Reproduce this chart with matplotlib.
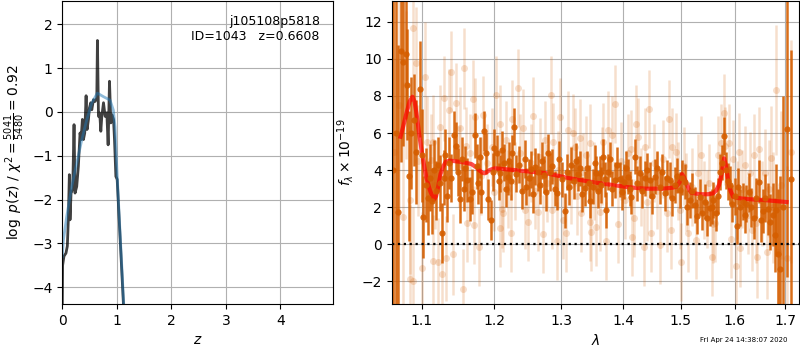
import matplotlib
matplotlib.use("Agg")
import matplotlib.pyplot as plt
from matplotlib.ticker import FixedLocator, FixedFormatter, NullLocator

# ---------------- p(z) panel ----------------
z_pz = [0.0, 0.005, 0.03, 0.067, 0.092, 0.11, 0.129, 0.141, 0.16, 0.19, 0.215, 0.233,
        0.264, 0.294, 0.325, 0.344, 0.368, 0.387, 0.411, 0.436, 0.454, 0.479, 0.497,
        0.521, 0.540, 0.571, 0.601, 0.632, 0.644, 0.663, 0.681, 0.693, 0.706, 0.724,
        0.755, 0.785, 0.816, 0.840, 0.865, 0.890, 0.908, 0.939, 0.957, 0.982, 1.006,
        1.049, 1.092, 1.135, 1.2]
logp = [-4.4, -3.5, -3.29, -3.22, -3.06, -2.46, -1.43, -2.46, -1.85, -1.77, -0.29, -1.85,
        -1.70, -1.24, -0.48, -0.63, -0.17, -0.63, -0.48, 0.37, -0.40, -0.17, 0.09,
        0.21, 0.05, 0.28, 0.24, 0.32, 1.63, -0.10, -0.02, -0.17, -0.44, -0.10,
        0.21, -0.10, -0.02, -0.75, 0.70, -0.25, -0.06, -0.17, -0.63, -1.47, -1.54,
        -2.61, -3.67, -4.74, -6.0]
z_smooth = [0.0, 0.02, 0.08, 0.172, 0.264, 0.356, 0.448, 0.539, 0.642, 0.752, 0.875,
            0.936, 0.967, 0.998, 1.05, 1.10, 1.15]
logp_smooth = [-3.3, -2.92, -2.39, -1.70, -1.17, -0.64, -0.18, 0.20, 0.43, 0.35, 0.27,
               0.04, -0.34, -1.25, -2.55, -3.75, -5.0]

# ---------------- spectrum panel ----------------
lam_dark = [1.0625, 1.0660, 1.0692, 1.0727, 1.0756, 1.0791, 1.0810, 1.0830, 1.0862, 1.0895,
            1.0930, 1.0974, 1.1000, 1.1017, 1.1050, 1.1080, 1.1105, 1.1129, 1.1160, 1.1190,
            1.1215, 1.1240, 1.1263, 1.1290, 1.1315, 1.1340, 1.1365, 1.1389, 1.1429, 1.1466,
            1.1490, 1.1521, 1.1545, 1.1570, 1.1590, 1.1613, 1.1651, 1.1683, 1.1717, 1.1745,
            1.1770, 1.1790, 1.1815, 1.1848, 1.1876, 1.1909, 1.1947, 1.1975, 1.2000, 1.2038,
            1.2060, 1.2087, 1.2115, 1.2140, 1.2164, 1.2190, 1.2213, 1.2240, 1.2262, 1.2290,
            1.2320, 1.2365, 1.2400, 1.2440, 1.2469, 1.2500, 1.2534, 1.2570, 1.2600, 1.2640,
            1.2670, 1.2700, 1.2730, 1.2761, 1.2795, 1.2823, 1.2860, 1.2895, 1.2935, 1.2970,
            1.3010, 1.3055, 1.3090, 1.3122, 1.3160, 1.3195, 1.3228, 1.3260, 1.3291, 1.3330,
            1.3371, 1.3408, 1.3440, 1.3463, 1.3505, 1.3535, 1.3560, 1.3590, 1.3614, 1.3640,
            1.3668, 1.3700, 1.3723, 1.3750, 1.3778, 1.3820, 1.3860, 1.3900, 1.3944, 1.3975,
            1.4010, 1.4045, 1.4083, 1.4110, 1.4140, 1.4196, 1.4230, 1.4282, 1.4320, 1.4367,
            1.4410, 1.4454, 1.4500, 1.4540, 1.4585, 1.4628, 1.4670, 1.4716, 1.4760, 1.4804,
            1.4850, 1.4893, 1.4940, 1.4982, 1.5030, 1.5072, 1.5120, 1.5163, 1.5210, 1.5254,
            1.5300, 1.5346, 1.5390, 1.5438, 1.5485, 1.5530, 1.5564, 1.5592, 1.5656, 1.5690,
            1.5718, 1.5760, 1.5793, 1.5831, 1.5870, 1.5907, 1.5950, 1.6002, 1.6040, 1.6066,
            1.6110, 1.6162, 1.6195, 1.6229, 1.6275, 1.6325, 1.6370, 1.6420, 1.6475, 1.6515,
            1.6556, 1.6600, 1.6655, 1.6700, 1.6754, 1.6790, 1.6822, 1.6855, 1.6889, 1.6950,
            1.7027, 1.7125]
flux_dark = [4.0, 6.0, 1.74, 10.44, 9.81, 10.25, 8.6, 3.68, 6.0, 6.70,
             5.0, 8.38, 4.8, 1.47, 3.2, 2.5, 3.6, 2.34, 4.0, 2.9,
             4.3, 3.3, 0.61, 3.6, 4.8, 2.6, 4.4, 3.56, 5.88, 5.30,
             3.9, 2.46, 4.6, 3.0, 4.1, 3.47, 2.43, 2.84, 5.88, 4.2,
             3.3, 4.7, 2.80, 6.11, 4.91, 2.43, 1.31, 3.9, 5.2, 4.91,
             3.4, 3.83, 5.1, 4.40, 3.0, 3.65, 4.5, 3.4, 4.91, 6.34,
             3.8, 4.28, 2.9, 4.6, 3.11, 3.6, 4.05, 2.7, 4.19, 3.9,
             3.20, 4.5, 3.74, 2.8, 4.94, 3.9, 4.2, 3.0, 2.78, 4.6,
             3.5, 1.81, 3.9, 3.07, 4.28, 3.4, 4.51, 3.8, 4.10, 2.7,
             3.02, 4.10, 3.3, 2.35, 3.11, 4.4, 3.83, 2.9, 3.83, 3.2,
             4.72, 3.5, 1.85, 3.9, 4.58, 3.0, 3.47, 4.3, 3.51, 2.8,
             3.38, 4.1, 3.65, 3.0, 2.57, 4.72, 3.29, 3.83, 2.9, 3.56,
             4.0, 3.47, 2.6, 3.65, 4.1, 3.11, 3.9, 2.75, 3.6, 3.47,
             2.5, 3.20, 3.7, 2.93, 3.6, 3.38, 2.0, 2.39, 2.9, 2.12,
             1.5, 2.57, 1.7, 2.30, 1.4, 1.94, 2.03, 2.39, 1.67, 2.6,
             3.9, 4.4, 5.84, 4.0, 3.4, 3.2, 2.2, 2.6, 1.0, 3.11,
             2.0, 2.3, 1.6, 2.2, 2.8, 2.0, 1.4, 2.5, 3.38, 1.3,
             1.8, 2.5, 1.9, 1.2, 1.6, 0.5, 1.85, -0.5, -1.33, 2.0,
             6.24, 3.5]
err_dark = [12.0, 11.0, 9.0, 6.0, 4.5, 3.5, 3.0, 3.5, 3.0, 2.5,
            2.8, 2.6, 2.5, 2.2, 2.0, 2.0, 1.8, 1.8, 1.6, 1.6,
            1.5, 1.5, 1.6, 1.5, 1.4, 1.4, 1.4, 1.3, 1.3, 1.3,
            1.3, 1.3, 1.2, 1.2, 1.2, 1.2, 1.2, 1.2, 1.2, 1.2,
            1.1, 1.1, 1.1, 1.1, 1.1, 1.1, 1.1, 1.0, 1.0, 1.0,
            1.0, 1.0, 1.0, 1.0, 1.0, 1.0, 1.0, 1.0, 1.0, 1.0,
            1.0, 1.0, 1.0, 1.0, 1.0, 1.0, 1.0, 1.0, 1.0, 1.0,
            1.0, 1.0, 1.0, 1.0, 1.0, 1.0, 0.95, 0.95, 0.95, 0.95,
            0.95, 0.95, 0.95, 0.95, 0.95, 0.95, 0.95, 0.95, 0.95, 0.95,
            0.95, 0.95, 0.95, 0.95, 0.95, 0.95, 0.95, 0.95, 0.95, 0.95,
            0.95, 0.95, 0.95, 0.95, 0.95, 0.95, 0.95, 0.95, 0.95, 0.95,
            0.95, 0.95, 0.95, 0.95, 0.95, 0.95, 0.95, 0.95, 0.95, 0.95,
            0.95, 0.95, 0.95, 0.95, 0.95, 0.95, 0.95, 0.95, 0.95, 0.95,
            0.95, 0.95, 0.95, 0.95, 0.95, 0.95, 0.95, 0.95, 0.95, 0.95,
            0.95, 0.95, 0.95, 0.95, 0.95, 0.95, 0.95, 0.95, 0.95, 0.95,
            0.95, 0.95, 1.0, 1.0, 1.0, 1.0, 1.0, 1.0, 1.0, 1.0,
            1.0, 1.0, 1.0, 1.0, 1.05, 1.05, 1.1, 1.1, 1.15, 1.2,
            1.2, 1.3, 1.4, 1.5, 1.7, 2.0, 2.5, 3.5, 5.0, 6.0,
            8.0, 7.0]

lam_light = [1.0640, 1.0700, 1.0756, 1.0790, 1.0843, 1.0851, 1.0878, 1.0886, 1.0920, 1.0950,
             1.1004, 1.1040, 1.1070, 1.1118, 1.1142, 1.1150, 1.1180, 1.1209, 1.1240, 1.1271,
             1.1298, 1.1320, 1.1366, 1.1398, 1.1420, 1.1466, 1.1500, 1.1521, 1.1557, 1.1567,
             1.1604, 1.1613, 1.1651, 1.1693, 1.1703, 1.1727, 1.1781, 1.1810, 1.1838, 1.1900,
             1.1971, 1.2000, 1.2029, 1.2077, 1.2087, 1.2116, 1.2125, 1.2174, 1.2200, 1.2247,
             1.2262, 1.2300, 1.2336, 1.2380, 1.2418, 1.2444, 1.2493, 1.2530, 1.2569, 1.2600,
             1.2644, 1.2680, 1.2711, 1.2746, 1.2780, 1.2838, 1.2849, 1.2874, 1.2926, 1.2950,
             1.2977, 1.3029, 1.3071, 1.3107, 1.3150, 1.3185, 1.3212, 1.3250, 1.3291, 1.3317,
             1.3350, 1.3398, 1.3452, 1.3463, 1.3479, 1.3520, 1.3560, 1.3614, 1.3650, 1.3668,
             1.3723, 1.3750, 1.3822, 1.3860, 1.3916, 1.3960, 1.4027, 1.4080, 1.4140, 1.4157,
             1.4180, 1.4212, 1.4250, 1.4300, 1.4350, 1.4367, 1.4410, 1.4444, 1.4477, 1.4520,
             1.4580, 1.4628, 1.4680, 1.4756, 1.4790, 1.4831, 1.4848, 1.4915, 1.4950, 1.4982,
             1.5000, 1.5060, 1.5100, 1.5132, 1.5200, 1.5285, 1.5316, 1.5361, 1.5420, 1.5480,
             1.5520, 1.5565, 1.5592, 1.5624, 1.5686, 1.5749, 1.5793, 1.5810, 1.5893, 1.5938,
             1.5970, 1.6021, 1.6050, 1.6084, 1.6112, 1.6150, 1.6195, 1.6250, 1.6292, 1.6344,
             1.6380, 1.6423, 1.6435, 1.6475, 1.6530, 1.6588, 1.6634, 1.6680, 1.6722, 1.6760,
             1.6808, 1.6855, 1.6920, 1.7040, 1.7120]
flux_light = [5.0, 7.5, 1.49, 8.6, 2.39, -1.89, 11.65, -1.97, 9.8, 4.5,
              -1.26, 9.01, 5.5, 4.55, -0.90, 5.53, 3.2, -0.98, 6.31, -1.60,
              7.87, -0.76, 7.24, 9.31, -0.54, 7.60, 4.2, 6.29, -2.43, 9.49,
              5.30, 1.13, 4.91, 7.82, 1.04, 6.88, -0.13, 3.7, 6.97, 4.4,
              5.26, 2.8, 8.05, 6.49, 0.86, 1.9, 1.67, 5.63, 3.0, 0.59,
              6.74, 3.4, 8.41, 4.9, 6.26, 1.85, 1.19, 4.4, 6.92, 2.9,
              1.76, 4.7, 0.54, 5.63, 3.3, 8.05, 1.85, 5.53, 0.19, 4.0,
              6.88, 1.31, 0.6, 6.16, 3.2, 5.99, 5.26, 2.6, 5.72, 1.67,
              3.9, 4.82, 5.48, 1.22, 0.68, 3.4, 0.95, 1.76, 4.2, 5.5,
              0.19, 6.16, 5.90, 7.57, 1.09, 4.5, 2.39, 4.9, 5.12, 0.38,
              1.40, 6.49, 5.8, 3.1, -0.16, 5.26, 2.3, 7.28, 0.59, 4.4,
              2.9, -0.04, 4.6, 1.67, 6.76, 0.77, 5.26, 5.00, 3.4, 1.85,
              -0.94, 4.2, 2.8, 0.59, 3.1, 0.23, 3.83, 4.82, 2.4, 1.9,
              3.3, -0.67, 1.1, 1.13, 4.82, 5.45, 7.10, 5.3, 5.45, 0.27,
              4.6, -1.17, 2.4, 5.00, -0.22, 3.0, 4.28, 1.6, 3.83, 0.77,
              4.8, 1.17, -0.67, 5.12, 2.2, 3.83, -0.43, 3.0, 4.64, 2.0,
              8.32, -0.40, 3.2, -0.76, 5.0]
err_light = [10.0, 6.0, 5.0, 4.0, 4.0, 4.0, 3.5, 4.0, 3.0, 3.0,
             3.0, 3.0, 2.5, 2.5, 2.5, 2.5, 2.4, 2.4, 2.3, 2.3,
             2.3, 2.3, 2.2, 2.2, 2.2, 2.2, 2.2, 2.2, 2.2, 2.2,
             2.1, 2.1, 2.1, 2.1, 2.1, 2.1, 2.1, 2.1, 2.1, 2.1,
             2.1, 2.1, 2.1, 2.1, 2.1, 2.1, 2.1, 2.1, 2.1, 2.1,
             2.1, 2.1, 2.1, 2.1, 2.1, 2.1, 2.1, 2.1, 2.1, 2.1,
             2.1, 2.1, 2.1, 2.1, 2.1, 2.1, 2.1, 2.1, 2.1, 2.1,
             2.1, 2.1, 2.1, 2.1, 2.1, 2.1, 2.1, 2.1, 2.1, 2.1,
             2.1, 2.1, 2.1, 2.1, 2.1, 2.1, 2.1, 2.1, 2.1, 2.1,
             2.1, 2.1, 2.1, 2.1, 2.1, 2.1, 2.1, 2.1, 2.1, 2.1,
             2.1, 2.1, 2.1, 2.1, 2.1, 2.1, 2.1, 2.1, 2.1, 2.1,
             2.1, 2.1, 2.1, 2.1, 2.1, 2.1, 2.1, 2.1, 2.1, 2.1,
             2.1, 2.1, 2.1, 2.1, 2.1, 2.1, 2.1, 2.1, 2.1, 2.1,
             2.1, 2.1, 2.1, 2.1, 2.1, 2.1, 2.1, 2.1, 2.1, 2.1,
             2.1, 2.1, 2.1, 2.1, 2.1, 2.1, 2.1, 2.1, 2.2, 2.2,
             2.2, 2.2, 2.2, 2.3, 2.3, 2.4, 2.5, 2.6, 2.8, 3.0,
             3.5, 3.5, 4.0, 5.0, 6.0]

lam_model = [1.0723, 1.0760, 1.0800, 1.0840, 1.0878, 1.0905, 1.0930, 1.0970, 1.1017, 1.1060,
             1.1106, 1.1159, 1.1190, 1.1217, 1.1250, 1.1284, 1.1320, 1.1375, 1.1450, 1.1558,
             1.1673, 1.1740, 1.1791, 1.1830, 1.1862, 1.1900, 1.1933, 1.2005, 1.2272, 1.2772,
             1.3133, 1.3560, 1.4112, 1.4396, 1.4686, 1.4850, 1.4923, 1.4980, 1.5023, 1.5060,
             1.5103, 1.5150, 1.5193, 1.5346, 1.5500, 1.5593, 1.5650, 1.5705, 1.5760, 1.5799,
             1.5830, 1.5875, 1.5920, 1.5970, 1.6050, 1.6229, 1.6556, 1.7027]
flux_model = [5.80, 6.40, 7.07, 7.70, 7.96, 7.70, 7.07, 5.80, 4.55, 3.60,
              2.93, 2.39, 2.60, 3.11, 3.80, 4.19, 4.45, 4.51, 4.48, 4.42,
              4.33, 4.15, 3.97, 3.85, 3.83, 3.92, 4.01, 4.10, 4.01, 3.83,
              3.56, 3.32, 3.07, 3.00, 3.00, 3.05, 3.11, 3.35, 3.79, 3.60,
              3.29, 2.95, 2.78, 2.70, 2.70, 2.75, 2.90, 3.20, 3.90, 4.64,
              4.30, 3.47, 2.90, 2.57, 2.50, 2.44, 2.39, 2.28]

lam_ticks = [1.1, 1.2, 1.3, 1.4, 1.5, 1.6, 1.7]
lam_ticklabels = ["1.1", "1.2", "1.3", "1.4", "1.5", "1.6", "1.7"]

g141_color = (0.8352941176470589, 0.3686274509803922, 0.0)

fig = plt.figure(figsize=(8, 3.5), dpi=100)
ax1 = fig.add_axes([0.0779, 0.1314, 0.3388, 0.8657])
ax2 = fig.add_axes([0.4896, 0.1314, 0.5090, 0.8657])

# left panel
ax1.plot(z_pz, logp, color="k", alpha=0.75, lw=2)
ax1.plot(z_smooth, logp_smooth, color="#1f77b4", alpha=0.5, lw=2)
ax1.set_xlim(0, 4.97)
ax1.set_ylim(-4.38, 2.53)
ax1.set_xticks([0, 1, 2, 3, 4])
ax1.set_yticks([-4, -3, -2, -1, 0, 1, 2])
ax1.grid(True)
ax1.set_xlabel(r"$z$")
ax1.set_ylabel(r"$\log\ p(z)$ / $\chi^2=\frac{5041}{5480}=0.92$")
ax1.text(0.95, 0.955, "j105108p5818\nID=1043   z=0.6608", ha="right", va="top",
         transform=ax1.transAxes, fontsize=9)

# right panel
ax2.errorbar(lam_light, flux_light, yerr=err_light, fmt="o", color=g141_color,
             alpha=0.2, ms=5, elinewidth=1.8, capsize=0, mew=0)
ax2.errorbar(lam_dark, flux_dark, yerr=err_dark, fmt="o", color=g141_color,
             alpha=0.9, ms=4.5, elinewidth=1.8, capsize=0, mew=0)
ax2.plot(lam_model, flux_model, color="r", lw=3, alpha=0.7)
ax2.axhline(0, color="k", ls=":", lw=1.6)
ax2.set_xscale("log")
ax2.xaxis.set_major_locator(FixedLocator(lam_ticks))
ax2.xaxis.set_major_formatter(FixedFormatter(lam_ticklabels))
ax2.xaxis.set_minor_locator(NullLocator())
ax2.set_xlim(1.061, 1.728)
ax2.set_ylim(-3.22, 13.12)
ax2.set_yticks([-2, 0, 2, 4, 6, 8, 10, 12])
ax2.grid(True)
ax2.set_xlabel(r"$\lambda$")
ax2.set_ylabel(r"$f_\lambda\times10^{-19}$")

fig.text(0.985, 0.02, "Fri Apr 24 14:38:07 2020", ha="right", va="bottom", fontsize=5)

fig.savefig("out.png", dpi=100)
